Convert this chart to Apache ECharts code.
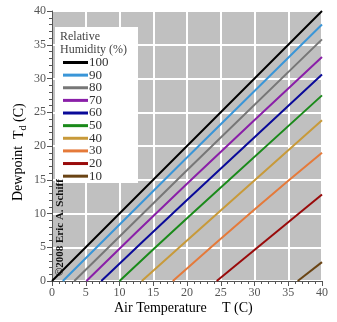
<!DOCTYPE html>
<html><head><meta charset="utf-8">
<script src="https://cdn.jsdelivr.net/npm/echarts@6/dist/echarts.min.js"></script>
<style>html,body{margin:0;padding:0;background:#fff}#c{width:337px;height:322px}</style>
</head><body><div id="c"></div>
<script>
const rhLabels = ['100','90','80','70','60','50','40','30','20','10'];
const rhColors = ['#000000','#3a96d8','#777777','#8a1fa8','#0a0a99','#1a8a1a','#c89a3a','#e57a3a','#990a0a','#6a4414'];
const rh100 = [[0,0],[40,40]];
const rh90 = [[1.6,0],[20,18.3],[40,38.0]];
const rh80 = [[3.3,0],[20,16.4],[40,35.8]];
const rh70 = [[5.1,0],[20,14.4],[40,33.2]];
const rh60 = [[7.3,0],[20,12.0],[40,30.6]];
const rh50 = [[10.0,0],[20,9.3],[40,27.5]];
const rh40 = [[13.3,0],[20,6.0],[40,23.8]];
const rh30 = [[17.9,0],[30,10.6],[40,19.0]];
const rh20 = [[24.4,0],[40,12.8]];
const rh10 = [[36.4,0],[40,2.8]];
const allData = [rh100,rh90,rh80,rh70,rh60,rh50,rh40,rh30,rh20,rh10];
const xTicks = [0,5,10,15,20,25,30,35,40];
const yTicks = [0,5,10,15,20,25,30,35,40];

const font = 'Liberation Serif';
const chart = echarts.init(document.getElementById('c'));
const axisCommon = {
  min: 0, max: 40, interval: 5,
  axisLine: {show: true, lineStyle: {color: '#555', width: 1}},
  axisTick: {show: true, length: 5, lineStyle: {color: '#555'}},
  minorTick: {show: true, splitNumber: 5, length: 3, lineStyle: {color: '#555'}},
  splitLine: {show: true, lineStyle: {color: '#ffffff', width: 2}},
  axisLabel: {color: '#555', fontFamily: font, fontSize: 12}
};
chart.setOption({
  animation: false,
  grid: {left: 52, right: 15, top: 11, bottom: 41, show: true, backgroundColor: '#c0c0c0', borderColor: '#555', borderWidth: 1},
  xAxis: Object.assign({type: 'value'}, axisCommon, {axisLabel: Object.assign({}, axisCommon.axisLabel, {margin: 6, formatter: v => xTicks.includes(v) ? String(v) : ''})}),
  yAxis: Object.assign({type: 'value'}, axisCommon, {axisLabel: Object.assign({}, axisCommon.axisLabel, {margin: 6, formatter: v => yTicks.includes(v) ? String(v) : ''})}),
  legend: {
    orient: 'vertical', left: 63, top: 56, z: 20, padding: 0,
    itemWidth: 25, itemHeight: 12, itemGap: -0.37,
    icon: 'path://M0,0 L25,0 L25,3 L0,3 Z',
    textStyle: {fontFamily: font, fontSize: 13, color: '#333', padding: [0,0,0,-4]},
    data: rhLabels
  },
  graphic: [
    {type: 'rect', left: 55, top: 27, z: 5, shape: {width: 83, height: 156}, style: {fill: '#ffffff'}},
    {type: 'text', left: 60, top: 30, z: 6, style: {text: 'Relative\nHumidity (%)', font: '12px "Liberation Serif"', fill: '#444', lineHeight: 13}},
    {type: 'text', x: 114, y: 301, z: 6, style: {text: 'Air Temperature', font: '14px "Liberation Serif"', fill: '#000'}},
    {type: 'text', x: 222, y: 301, z: 6, style: {text: 'T (C)', font: '14px "Liberation Serif"', fill: '#000'}},
    {type: 'text', x: 11, y: 201, rotation: Math.PI/2, z: 6, style: {text: 'Dewpoint', font: '14px "Liberation Serif"', fill: '#000'}},
    {type: 'text', x: 11, y: 139, rotation: Math.PI/2, z: 6, style: {text: 'T{d|d} (C)', font: '14px "Liberation Serif"', fill: '#000', rich: {d: {font: '10px "Liberation Serif"', fill: '#000', padding: [7,0,0,0]}}}},
    {type: 'text', x: 55, y: 276, rotation: Math.PI/2, z: 30, style: {text: '©2008 Eric A. Schiff', font: 'bold 11px "Liberation Serif"', fill: '#111'}}
  ],
  series: allData.map((d, i) => ({
    name: rhLabels[i], type: 'line', data: d, symbol: 'none', smooth: true,
    lineStyle: {color: rhColors[i], width: 2}, itemStyle: {color: rhColors[i]}, z: 3
  }))
});
</script></body></html>
